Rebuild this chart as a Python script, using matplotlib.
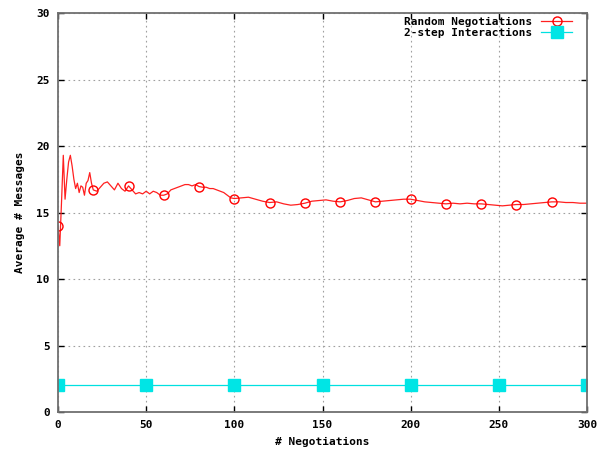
import matplotlib
matplotlib.use('Agg')
import matplotlib.pyplot as plt

# running average of messages per negotiation
rand_x = [0, 1, 2, 3, 4, 5, 6, 7, 8, 9, 10, 11, 12, 13, 14, 15, 16, 17, 18, 19,
          20, 22, 24, 26, 28, 30, 32, 34, 36, 38, 40, 42, 44, 46, 48, 50, 52, 54,
          56, 58, 60, 62, 64, 66, 68, 70, 72, 74, 76, 78, 80, 82, 84, 86, 88, 90,
          92, 94, 96, 98, 100, 104, 108, 112, 116, 120, 124, 128, 132, 136, 140,
          144, 148, 152, 156, 160, 164, 168, 172, 176, 180, 184, 188, 192, 196,
          200, 204, 208, 212, 216, 220, 224, 228, 232, 236, 240, 244, 248, 252,
          256, 260, 264, 268, 272, 276, 280, 284, 288, 292, 296, 300]
rand_y = [14.0, 12.5, 15.8, 19.3, 16.0, 17.5, 18.8, 19.3, 18.5, 17.5, 16.8, 17.2,
          16.5, 17.0, 16.9, 16.3, 17.2, 17.4, 18.0, 17.2,
          16.7, 16.6, 16.9, 17.2, 17.3, 17.0, 16.7, 17.2, 16.8, 16.6, 17.0, 16.7,
          16.4, 16.5, 16.4, 16.6, 16.4, 16.6, 16.5, 16.3, 16.3, 16.4, 16.7, 16.8,
          16.9, 17.0, 17.1, 17.1, 17.0, 17.1, 16.95, 16.9, 16.9, 16.8, 16.8, 16.7,
          16.6, 16.5, 16.3, 16.1, 16.05, 16.1, 16.15, 16.0, 15.85, 15.75, 15.8,
          15.65, 15.55, 15.6, 15.7, 15.85, 15.9, 15.95, 15.85, 15.8, 15.9, 16.05,
          16.1, 15.95, 15.8, 15.85, 15.9, 15.95, 16.0, 16.0, 15.9, 15.8, 15.75,
          15.7, 15.65, 15.7, 15.65, 15.7, 15.65, 15.65, 15.6, 15.55, 15.5, 15.55,
          15.6, 15.6, 15.65, 15.7, 15.75, 15.8, 15.8, 15.75, 15.75, 15.7, 15.7]
rand_marks = [0, 20, 40, 60, 80, 100, 120, 140, 160, 180, 200, 220, 240, 260, 280]

two_x = [0, 50, 100, 150, 200, 250, 300]
two_y = [2, 2, 2, 2, 2, 2, 2]

font = {'family': 'DejaVu Sans Mono', 'weight': 'bold', 'size': 8}

fig = plt.figure(figsize=(6.02, 4.49), dpi=100)
ax = fig.add_axes([58 / 602, 1 - 412 / 449, 529 / 602, 399 / 449])

ax.plot(rand_x, rand_y, color='#ff2020', lw=0.9, marker='o', ms=6.5,
        mfc='none', mec='#ff0000', mew=1.0,
        markevery=[rand_x.index(m) for m in rand_marks],
        label='Random Negotiations')
ax.plot(two_x, two_y, color='#00e0e0', lw=0.9, marker='s', ms=8,
        mfc='#00e5e5', mec='#00e5e5', label='2-step Interactions')

ax.set_xlim(0, 300)
ax.set_ylim(0, 30)
ax.set_xticks(range(0, 301, 50))
ax.set_yticks(range(0, 31, 5))
ax.grid(True, linestyle=(0, (1.5, 3)), color='#a0a0a0', lw=0.8)
ax.tick_params(direction='in', top=True, right=True, length=4, width=1,
               pad=6)
for lab in ax.get_xticklabels() + ax.get_yticklabels():
    lab.set_fontfamily(font['family'])
    lab.set_fontweight('bold')
    lab.set_fontsize(font['size'])
for s in ax.spines.values():
    s.set_color('#707070')
    s.set_linewidth(1.3)

ax.set_xlabel('# Negotiations', fontdict=font, labelpad=5)
ax.set_ylabel('Average # Messages', fontdict=font, labelpad=8)

ax.legend(loc='upper right', bbox_to_anchor=(0.985, 1.007), frameon=False,
          markerfirst=False,
          prop={'family': font['family'], 'weight': 'bold', 'size': 8},
          handlelength=2.8, labelspacing=0.1, borderaxespad=0.2,
          handletextpad=0.8)

fig.savefig('out.png', dpi=100)
